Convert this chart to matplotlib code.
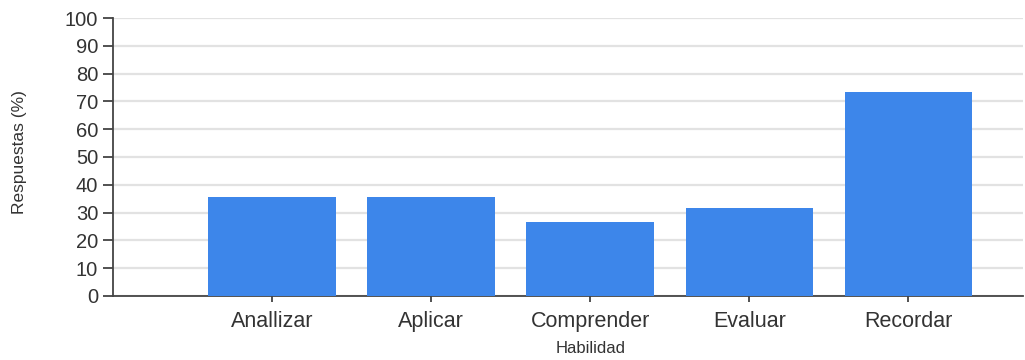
import matplotlib.pyplot as plt

habilidades = ['Anallizar', 'Aplicar', 'Comprender', 'Evaluar', 'Recordar']
respuestas = [35.7, 35.7, 26.6, 31.5, 73.5]
y_ticks = list(range(0, 101, 10))

plt.rcParams['font.family'] = ['Liberation Sans', 'DejaVu Sans']

fig = plt.figure(figsize=(10.25, 3.6), dpi=100)
ax = fig.add_axes([0.110, 0.178, 0.888, 0.772])

x = list(range(len(habilidades)))
ax.bar(x, respuestas, width=0.8, color='#3d86ea', zorder=3)

ax.set_xlim(-1.0, 4.72)
ax.set_ylim(0, 100)
ax.set_yticks(y_ticks)
ax.set_xticks(x)
ax.set_xticklabels(habilidades)

ax.grid(axis='y', color='#e2e2e2', linewidth=1.6, zorder=0)
ax.tick_params(axis='y', labelsize=14.5, colors='#333333', length=7, width=1.2, pad=3.5)
ax.tick_params(axis='x', labelsize=15.5, colors='#333333', length=4, width=1.2, pad=7)

for s in ['top', 'right']:
    ax.spines[s].set_visible(False)
for s in ['left', 'bottom']:
    ax.spines[s].set_color('#444444')
    ax.spines[s].set_linewidth(1.3)

# y label sits far to the left, x label is centred under the middle bar
fig.text(20 / 1025, 1 - 152 / 360, 'Respuestas (%)', rotation=90,
         ha='center', va='center', fontsize=12.5, color='#333333')
ax.set_xlabel('Habilidad', fontsize=12, color='#333333')
ax.xaxis.set_label_coords(2, -0.162, transform=ax.get_xaxis_transform())

fig.savefig('out.png', dpi=100)
